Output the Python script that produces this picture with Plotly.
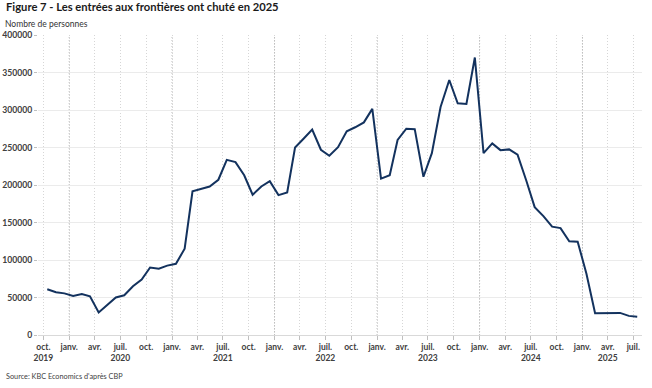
import plotly.graph_objects as go
import pandas as pd

# ---- data ----
values = [
    61000, 57000, 55500,                                   # 2019 Oct-Dec
    52000, 54500, 51500, 30000, 39500, 50000, 53000, 65000, 74000, 90000, 88500, 92500,   # 2020
    95000, 115000, 191500, 195000, 198000, 207000, 233500, 230500, 213000, 187000, 198000, 205000,  # 2021
    186500, 190000, 250000, 262000, 274000, 247000, 239000, 250500, 271500, 277000, 283500, 301500,  # 2022
    208500, 213000, 260000, 275000, 274500, 211000, 242500, 304000, 340000, 309000, 308000, 370000,  # 2023
    242500, 255500, 246500, 247500, 240500, 206000, 170500, 158500, 144500, 142500, 125000, 124500,  # 2024
    82000, 29000, 29000, 29500, 29500, 25500, 24500,       # 2025 Jan-Jul
]
dates = pd.date_range("2019-10-01", periods=len(values), freq="MS") + pd.Timedelta(days=14)

tick_dates = pd.date_range("2019-10-01", "2025-07-01", freq="QS-JAN")
month_names = {1: "janv.", 4: "avr.", 7: "juil.", 10: "oct."}
year_label_at = {"2019-10", "2020-07", "2021-07", "2022-07", "2023-07", "2024-07", "2025-04"}
tick_labels = []
for d in tick_dates:
    lab = month_names[d.month]
    if d.strftime("%Y-%m") in year_label_at:
        lab += "<br>" + str(d.year)
    tick_labels.append(lab)

y_ticks = list(range(0, 400001, 50000))

title = "Figure 7 - Les entrées aux frontières ont chuté en 2025"
subtitle = "Nombre de personnes"
source = "Source: KBC Economics d'après CBP"

FONT = "Lato"
L, R, T, B = 38, 10, 35, 53
PW, PH = 652 - L - R, 388 - T - B

fig = go.Figure()
fig.add_trace(go.Scatter(
    x=dates, y=values, mode="lines",
    line=dict(color="#13325e", width=2),
    hoverinfo="skip", showlegend=False,
))

# slightly darker dotted separators at January
for d in tick_dates:
    if d.month == 1:
        fig.add_shape(type="line", xref="x", yref="paper", x0=d, x1=d, y0=0, y1=1,
                      line=dict(color="#bdbdbd", width=1, dash="1px,2px"), layer="below")

fig.update_layout(
    width=652, height=388,
    margin=dict(l=L, r=R, t=T, b=B),
    paper_bgcolor="white", plot_bgcolor="white",
    font=dict(family=FONT, color="#404040"),
    title=dict(text=title, x=6/652, xref="container", xanchor="left",
               y=1 - 3/388, yref="container", yanchor="top",
               font=dict(family=FONT, size=11.2, color="#1a1a1a", weight="bold")),
    annotations=[
        dict(text=subtitle, xref="paper", yref="paper", x=(3-L)/PW, y=1 + (T-24)/PH,
             xanchor="left", yanchor="middle", showarrow=False,
             font=dict(family=FONT, size=8.5, color="#333333")),
        dict(text=source, xref="paper", yref="paper", x=(4-L)/PW, y=-(376-(388-B))/PH,
             xanchor="left", yanchor="middle", showarrow=False,
             font=dict(family=FONT, size=7.3, color="#404040")),
    ],
    xaxis=dict(
        range=[pd.Timestamp("2019-09-12"), pd.Timestamp("2025-08-01")],
        tickvals=tick_dates, ticktext=tick_labels,
        tickfont=dict(family=FONT, size=8.5, color="#404040", weight="bold"),
        ticks="outside", ticklen=4, tickcolor="#bfbfbf",
        showgrid=True, gridcolor="#d6d6d6", griddash="1px,2px", gridwidth=1,
        showline=True, linecolor="#d9d9d9", linewidth=1,
        zeroline=False, automargin=False,
    ),
    yaxis=dict(
        range=[0, 400000],
        tickvals=y_ticks, ticktext=[str(v) for v in y_ticks],
        tickfont=dict(family=FONT, size=8.6, color="#404040", weight="bold"),
        ticks="outside", ticklen=3, tickcolor="#bfbfbf",
        showgrid=True, gridcolor="#ebebeb", gridwidth=1,
        zeroline=False, showline=False, automargin=False,
    ),
)

fig.write_html("out.html", config={"displayModeBar": False},
               post_script="document.body.style.margin='0';")
